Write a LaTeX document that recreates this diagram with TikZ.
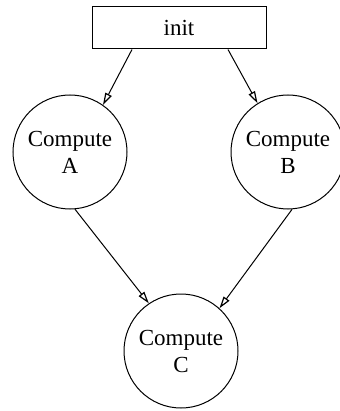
\documentclass[tikz,border=0pt]{standalone}
\usepackage{fontspec}
\setmainfont{Liberation Serif}
\usetikzlibrary{arrows.meta}
\begin{document}
\begin{tikzpicture}[x=1pt,y=-1pt,
  box/.style={draw, line width=1pt, minimum width=174pt, minimum height=42pt, inner sep=0pt, font=\fontsize{23}{27}\selectfont},
  proc/.style={draw, circle, line width=1pt, minimum size=114pt, inner sep=0pt, align=center, font=\fontsize{23}{27}\selectfont},
  conn/.style={line width=1pt, -{Triangle[open, length=12pt, width=7pt, line width=1.2pt]}}]
\useasboundingbox (0,0) rectangle (339,411);
\node[box] (init) at (179,28) {init\hspace{20pt}};
\node[proc] (A) at (70,152) {Compute\\A};
\node[proc] (B) at (288,152) {Compute\\B};
\node[proc] (C) at (181,351) {Compute\\C};
\draw[conn] (init.south -| 132,0) -- (A.55);
\draw[conn] (init.south -| 228,0) -- (B.122);
\draw[conn] (A.-85) -- (C.124);
\draw[conn] (B.-86) -- (C.48);
\end{tikzpicture}
\end{document}
